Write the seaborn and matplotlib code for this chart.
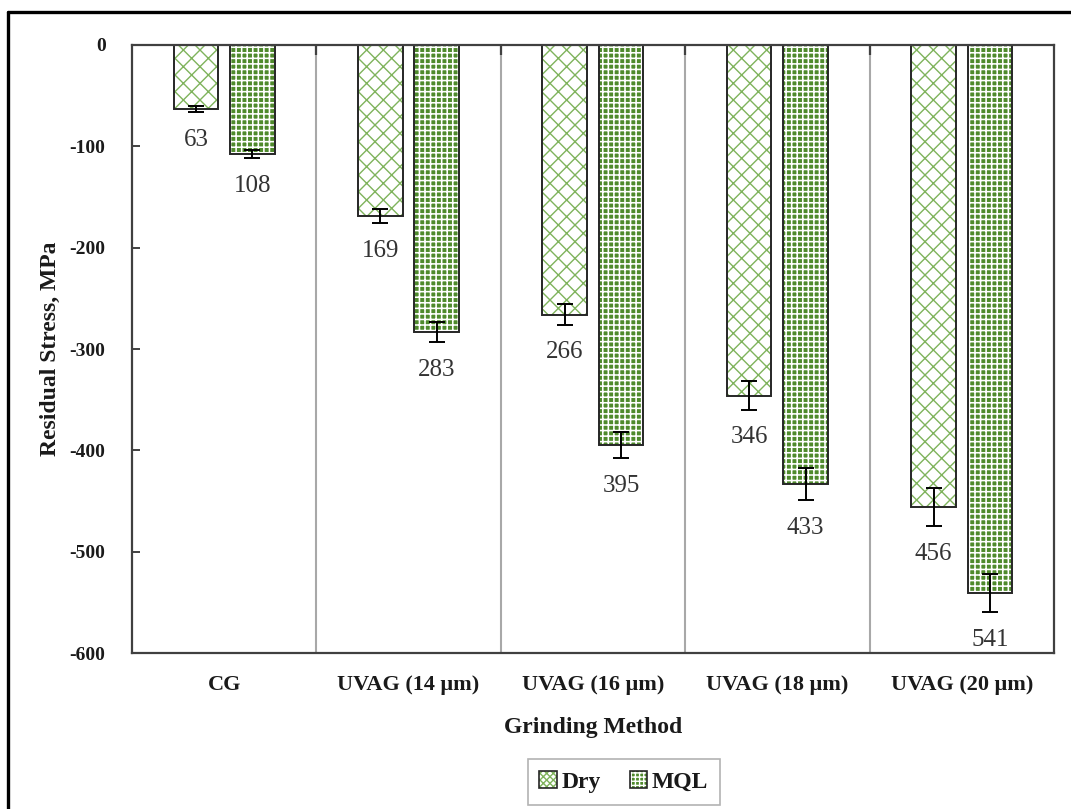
import numpy as np
import pandas as pd
import seaborn as sns
import matplotlib.pyplot as plt
from matplotlib.patches import Rectangle, Patch
from matplotlib.lines import Line2D
from matplotlib.legend_handler import HandlerTuple

# Residual stress (magnitude, MPa) by grinding method and cooling condition
methods = ["CG", "UVAG (14 μm)", "UVAG (16 μm)", "UVAG (18 μm)", "UVAG (20 μm)"]
conditions = ["Dry", "MQL"]
dry = [63, 169, 266, 346, 456]
mql = [108, 283, 395, 433, 541]
dry_err = [3, 7, 10, 14, 19]
mql_err = [4, 10, 13, 16, 19]
y_ticks = [0, -100, -200, -300, -400, -500, -600]

GREEN = "#4f8a2c"
LIGHT_GREEN = "#7fb35c"
EDGE = "#262626"
SPINE = "#404040"

sns.set_theme(style="white")
plt.rcParams["font.family"] = ["Liberation Serif", "DejaVu Serif"]

df = pd.DataFrame({
    "method": methods * 2,
    "condition": ["Dry"] * len(methods) + ["MQL"] * len(methods),
    "stress": [-v for v in dry] + [-v for v in mql],
})

fig = plt.figure(figsize=(10.71, 8.09), dpi=100)
ax = fig.add_axes([0.1232, 0.1928, 0.8609, 0.7516])

sns.barplot(data=df, x="method", y="stress", hue="condition",
            order=methods, hue_order=conditions, palette=["white", GREEN],
            width=0.612, gap=0.21, errorbar=None, legend=False, ax=ax)

styles = {
    "Dry": dict(face="white", hatch_color=LIGHT_GREEN, hatch="xx", hlw=1.0),
    "MQL": dict(face=GREEN, hatch_color="white", hatch="+++", hlw=1.15),
}
values = {"Dry": (dry, dry_err), "MQL": (mql, mql_err)}

for cond, container in zip(conditions, ax.containers):
    st = styles[cond]
    vals, errs = values[cond]
    xs, ys = [], []
    for p, v, e in zip(container.patches, vals, errs):
        p.set_facecolor(st["face"])
        p.set_edgecolor(st["hatch_color"])
        p.set_hatch(st["hatch"])
        p.set_linewidth(0)
        if hasattr(p, "set_hatch_linewidth"):
            p.set_hatch_linewidth(st["hlw"])
        ax.add_patch(Rectangle(p.get_xy(), p.get_width(), p.get_height(),
                               fill=False, ec=EDGE, lw=1.4, zorder=p.get_zorder() + 0.1))
        cx = p.get_x() + p.get_width() / 2
        xs.append(cx)
        ys.append(p.get_height())
        ax.annotate(f"{v}", (cx, -(v + e)), xytext=(0, -12), textcoords="offset points",
                    ha="center", va="top", fontsize=18, color="#333333")
    ax.errorbar(xs, ys, yerr=errs, fmt="none", ecolor="black", elinewidth=1.4,
                capsize=6, capthick=1.4, zorder=5)

# Axes, separators and ticks
ax.set_xlim(-0.5, len(methods) - 0.5)
ax.set_ylim(-600, 0)
ax.set_yticks(y_ticks)
ax.set_yticklabels([f"{t}" for t in y_ticks])
ax.set_xticks(np.arange(0.5, len(methods) - 1, 1), minor=True)
ax.grid(axis="x", which="minor", color="#a8a8a8", lw=1.5)
ax.grid(axis="y", visible=False)
ax.set_axisbelow(True)

for s in ax.spines.values():
    s.set_visible(True)
    s.set_color(SPINE)
    s.set_linewidth(1.6)

ax.tick_params(axis="y", which="major", direction="in", length=6, width=1.4,
               color=SPINE, left=True, pad=19, labelsize=14)
ax.tick_params(axis="x", which="major", length=0, pad=16, labelsize=16)
ax.tick_params(axis="x", which="minor", direction="in", length=7, width=1.6,
               color=SPINE, top=True, bottom=False)
for lab in ax.get_xticklabels() + ax.get_yticklabels():
    lab.set_fontweight("bold")
    lab.set_color("#1a1a1a")

ax.set_xlabel("Grinding Method", fontsize=17, fontweight="bold", color="#1a1a1a", labelpad=16)
ax.set_ylabel("Residual Stress, MPa", fontsize=17, fontweight="bold", color="#1a1a1a", labelpad=6)

# Legend below the plot: hatched square with a dark outline
def legend_key(face, hatch_color, hatch):
    fill = Patch(facecolor=face, edgecolor=hatch_color, hatch=hatch, lw=0)
    outline = Patch(facecolor="none", edgecolor=EDGE, lw=1.2)
    return (fill, outline)

handles = [legend_key("white", LIGHT_GREEN, "xxxxx"), legend_key(GREEN, "white", "++++")]
leg = fig.legend(handles=handles, labels=conditions, loc="center",
                 bbox_to_anchor=(0.5826, 0.0334),
                 handler_map={tuple: HandlerTuple(ndivide=1, pad=0)},
                 ncol=2, frameon=True, fancybox=False, edgecolor="#a0a0a0",
                 prop={"family": "Liberation Serif", "weight": "bold", "size": 17},
                 handlelength=0.75, handleheight=0.75, handletextpad=0.2,
                 columnspacing=1.2, borderpad=0.5)
leg.get_frame().set_linewidth(1.2)
for t in leg.get_texts():
    t.set_color("#1a1a1a")

# Outer frame (top and left edges)
fig.add_artist(Line2D([8 / 1071, 8 / 1071], [0, 1 - 12 / 809], transform=fig.transFigure,
                      color="black", lw=2.4))
fig.add_artist(Line2D([8 / 1071, 1], [1 - 12 / 809, 1 - 12 / 809], transform=fig.transFigure,
                      color="black", lw=2.4))

fig.savefig("out.png", dpi=100)
